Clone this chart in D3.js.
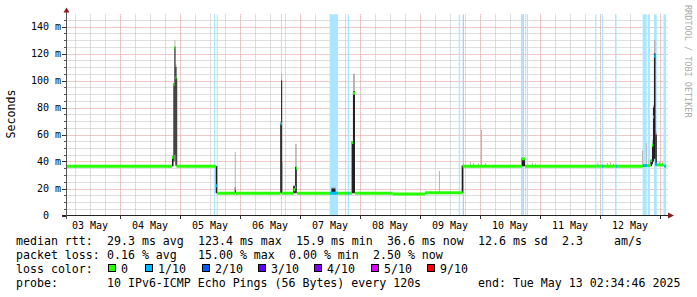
<!DOCTYPE html>
<html><head><meta charset="utf-8">
<script src="https://cdn.jsdelivr.net/npm/d3@7"></script>
<style>body{margin:0;background:#fff}svg{display:block}text{font-family:"DejaVu Sans Mono",monospace}</style>
</head><body>
<svg id="c" width="697" height="297"></svg>
<script>
// ---------- data ----------
const startStamp = "2025-05-03 02:34:46";
const endStamp = "2025-05-13 02:34:46";
const yTickValues = [0, 20, 40, 60, 80, 100, 120, 140];
const yTickLabels = ["0", "20 m", "40 m", "60 m", "80 m", "100 m", "120 m", "140 m"];
const dayLabels = ["03 May","04 May","05 May","06 May","07 May","08 May","09 May","10 May","11 May","12 May"];

const lossLabels = ["0", "1/10", "2/10", "3/10", "4/10", "5/10", "9/10"];
const lossColors = ["#26ff00", "#00b8ff", "#0059ff", "#5e00ff", "#7e00ff", "#dd00ff", "#ff0000"];

// median rtt (ms), step segments starting at medTime[i]
const medTime = ["05-03 02:34","05-04 20:48","05-04 21:24","05-04 21:48","05-04 22:12","05-04 22:36",
  "05-05 14:24","05-05 14:48","05-05 22:00","05-05 22:24","05-06 16:12","05-06 16:48","05-06 21:24",
  "05-06 22:00","05-06 22:24","05-06 22:48","05-07 12:00","05-07 15:12","05-07 19:12","05-07 19:36",
  "05-07 20:48","05-07 21:12","05-07 22:00","05-08 13:05","05-09 02:00","05-09 17:05","05-10 16:48",
  "05-10 18:00","05-11 22:12","05-11 22:36","05-12 00:48","05-12 01:12","05-12 06:24","05-12 06:48",
  "05-12 17:12","05-12 18:48","05-12 20:12","05-12 20:48","05-12 21:12","05-12 21:36","05-12 22:12",
  "05-12 22:48","05-13 01:36","05-13 02:24"];
const medValue = [36.5,43,97,124,102,36.5,
  22,16.5,20,16.5,68,16.5,19,
  21,35,16.5,16.5,16.5,16.5,16.5,
  54,90.6,16.5,15.9,16.8,36.5,42,
  36.5,36.5,36.5,36.5,36.5,36.5,36.5,
  37,37,40.7,52,73,118,38,
  37.5,36.6,36.6];
const medLoss = [0,0,0,0,0,0,
  1,0,0,0,1,0,0,
  0,0,0,1,0,1,0,
  0,0,0,0,0,0,0,
  0,1,0,1,0,1,0,
  1,0,0,0,1,1,1,
  0,1,0];

// smoke: dark from smokeLow to smokeHigh, light grey up to smokeTop
const smokeStart = ["05-04 20:48","05-04 21:24","05-04 21:48","05-04 22:12","05-04 22:36","05-05 14:19",
  "05-05 21:55","05-06 16:07","05-06 16:29","05-06 16:53","05-06 21:19","05-06 22:05","05-07 12:36",
  "05-07 20:41","05-07 21:12","05-09 07:36","05-09 16:43","05-09 20:00","05-09 21:12","05-09 23:12",
  "05-10 00:24","05-10 02:00","05-10 16:41","05-10 20:48","05-10 22:00","05-11 23:00","05-12 02:48",
  "05-12 04:00","05-12 05:12","05-12 16:48","05-12 18:24","05-12 19:24","05-12 20:12","05-12 20:48",
  "05-12 21:12","05-12 21:36","05-12 22:12","05-12 23:36","05-13 00:48"];
const smokeEnd = ["05-04 21:24","05-04 21:48","05-04 22:12","05-04 22:36","05-04 22:53","05-05 14:55",
  "05-05 22:19","05-06 16:29","05-06 16:53","05-06 17:12","05-06 22:00","05-06 22:43","05-07 14:12",
  "05-07 21:12","05-07 22:00","05-09 08:00","05-09 17:19","05-09 20:24","05-09 21:36","05-09 23:36",
  "05-10 00:48","05-10 02:24","05-10 18:00","05-10 21:12","05-10 22:24","05-11 23:24","05-12 03:12",
  "05-12 04:24","05-12 05:36","05-12 17:12","05-12 18:43","05-12 19:43","05-12 20:48","05-12 21:12",
  "05-12 21:36","05-12 22:12","05-12 22:43","05-13 00:00","05-13 01:12"];
const smokeLow = [36.5,40,45,37,36.5,16.5,
  16.5,16.5,16.5,16.5,16.5,16.5,16.5,
  16.5,16.5,16.8,16.8,36.5,36.5,36.5,
  36.5,36.5,36.5,36.5,36.5,36.5,36.5,
  36.5,36.5,36.5,36.5,36.5,36.5,38,
  40,42,37,36.5,36.5];
const smokeHigh = [44,98,125,110,102,36.5,
  21,68,100,16.5,22,36,20,
  55,92,16.8,37,36.5,36.5,36.5,
  36.5,36.5,42.5,36.5,36.5,36.5,36.5,
  36.5,36.5,36.5,36.5,36.5,41,53,
  80,120,60,36.5,36.5];
const smokeTop = [44,98,130,112,102,36.5,
  47,70,105,39.5,22,53,21,
  55,105,33,37,39.5,39,38.5,
  63.5,39,42.5,39,38.5,39,39,
  39.5,38.5,48,53.7,41,41,56,
  82,130,62,40,39.5];

// loss background periods
const lossStart = ["05-05 13:36","05-05 14:43","05-06 16:24","05-07 11:53","05-07 19:07","05-09 15:31",
  "05-09 17:07","05-10 16:24","05-10 17:00","05-10 18:43","05-11 22:05","05-12 00:43","05-12 06:10",
  "05-12 17:05","05-12 19:05","05-12 21:36","05-13 01:26"];
const lossEnd = ["05-05 14:00","05-05 15:07","05-06 16:48","05-07 15:12","05-07 19:36","05-09 16:00",
  "05-09 17:36","05-10 17:00","05-10 17:31","05-10 19:12","05-11 22:34","05-12 01:12","05-12 06:38",
  "05-12 18:41","05-12 20:00","05-12 22:43","05-13 02:24"];
const lossLevel = [1,1,1,1,1,1,2,1,2,1,1,1,1,1,1,1,1];

const rttStats = ["29.3 ms avg", "123.4 ms max", "15.9 ms min", "36.6 ms now", "12.6 ms sd", "2.3", "am/s"];
const lossStats = ["0.16 % avg", "15.00 % max", "0.00 % min", "2.50 % now"];
const probeText = "10 IPv6-ICMP Echo Pings (56 Bytes) every 120s";
const endText = "end: Tue May 13 02:34:46 2025";

// ---------- drawing ----------
const pT = d3.timeParse("%Y-%m-%d %H:%M");
const pS = d3.timeParse("%Y-%m-%d %H:%M:%S");
const T = s => pT("2025-" + s);
const t0 = pS(startStamp), t1 = pS(endStamp);

const svg = d3.select("#c");
const x = d3.scaleTime().domain([t0, t1]).range([66.4, 666.4]);
const y = d3.scaleLinear().domain([0, 149]).range([215.5, 14.35]);
const plotTop = y(149), plotBot = y(0);

// grid
const g = svg.append("g");
const minorY = d3.range(5, 149, 5).filter(v => v % 20 !== 0);
const majorY = d3.range(20, 149, 20);
g.selectAll(".hmin").data(minorY).join("line")
  .attr("x1", 66.5).attr("x2", 668).attr("y1", d => Math.round(y(d)) + 0.5).attr("y2", d => Math.round(y(d)) + 0.5)
  .attr("stroke", "#bdbdbd").attr("stroke-dasharray", "1,1");
const sixH = d3.timeHour.every(6).range(t0, t1).filter(d => d.getHours() !== 0);
const days = d3.timeDay.range(d3.timeDay.ceil(t0), t1);
g.selectAll(".vmin").data(sixH).join("line")
  .attr("x1", d => Math.round(x(d)) + 0.5).attr("x2", d => Math.round(x(d)) + 0.5)
  .attr("y1", plotTop).attr("y2", plotBot)
  .attr("stroke", "#bdbdbd").attr("stroke-dasharray", "1,1");
g.selectAll(".hmaj").data(majorY).join("line")
  .attr("x1", 66.5).attr("x2", 668).attr("y1", d => Math.round(y(d)) + 0.5).attr("y2", d => Math.round(y(d)) + 0.5)
  .attr("stroke", "#e09090").attr("stroke-dasharray", "1,1");
g.selectAll(".vmaj").data(days).join("line")
  .attr("x1", d => Math.round(x(d)) + 0.5).attr("x2", d => Math.round(x(d)) + 0.5)
  .attr("y1", plotTop).attr("y2", plotBot)
  .attr("stroke", "#e09090").attr("stroke-dasharray", "1,1");

// loss background
const lossBg = lossLevel.map(l => d3.interpolateRgb("#ffffff", lossColors[l])(0.34));
svg.append("g").selectAll("rect").data(lossStart.map((s, i) => i)).join("rect")
  .attr("x", i => x(T(lossStart[i]))).attr("width", i => Math.max(1, x(T(lossEnd[i])) - x(T(lossStart[i]))))
  .attr("y", plotTop).attr("height", plotBot - plotTop)
  .attr("fill", i => lossBg[i]);

// smoke
const sIdx = smokeStart.map((s, i) => i);
svg.append("g").selectAll("rect").data(sIdx.filter(i => smokeTop[i] > smokeLow[i])).join("rect")
  .attr("x", i => x(T(smokeStart[i]))).attr("width", i => x(T(smokeEnd[i])) - x(T(smokeStart[i])))
  .attr("y", i => y(smokeTop[i])).attr("height", i => y(smokeLow[i]) - y(smokeTop[i]))
  .attr("fill", "#b4b4b4");
svg.append("g").selectAll("rect").data(sIdx.filter(i => smokeHigh[i] > smokeLow[i])).join("rect")
  .attr("x", i => x(T(smokeStart[i]))).attr("width", i => x(T(smokeEnd[i])) - x(T(smokeStart[i])))
  .attr("y", i => y(smokeHigh[i])).attr("height", i => y(smokeLow[i]) - y(smokeHigh[i]))
  .attr("fill", "#1e1e1e");

// median line
const mIdx = medTime.map((s, i) => i);
svg.append("g").selectAll("line").data(mIdx).join("line")
  .attr("x1", i => x(T(medTime[i])))
  .attr("x2", i => i < medTime.length - 1 ? x(T(medTime[i + 1])) : x(t1))
  .attr("y1", i => y(medValue[i])).attr("y2", i => y(medValue[i]))
  .attr("stroke", i => lossColors[medLoss[i]]).attr("stroke-width", 3);

// axes
const ax = svg.append("g");
ax.append("line").attr("x1", 62).attr("x2", 668).attr("y1", 215.5).attr("y2", 215.5).attr("stroke", "#222");
ax.append("line").attr("x1", 66.5).attr("x2", 66.5).attr("y1", 219).attr("y2", 12).attr("stroke", "#555");
ax.append("path").attr("d", "M668,212.5L674,215.5L668,218.5Z").attr("fill", "#8c1c1c");
ax.append("path").attr("d", "M63.5,12.5L66.5,7.5L69.5,12.5Z").attr("fill", "#8c1c1c");
ax.selectAll(".xt").data(days).join("line")
  .attr("x1", d => Math.round(x(d)) + 0.5).attr("x2", d => Math.round(x(d)) + 0.5)
  .attr("y1", 215.5).attr("y2", 219).attr("stroke", "#333");
ax.selectAll(".ytm").data(yTickValues).join("line")
  .attr("x1", 62).attr("x2", 66.5).attr("y1", d => Math.round(y(d)) + 0.5).attr("y2", d => Math.round(y(d)) + 0.5)
  .attr("stroke", "#333");
ax.selectAll(".ytn").data(minorY).join("line")
  .attr("x1", 64).attr("x2", 66.5).attr("y1", d => Math.round(y(d)) + 0.5).attr("y2", d => Math.round(y(d)) + 0.5)
  .attr("stroke", "#555");

ax.selectAll(".yl").data(yTickValues).join("text")
  .attr("x", 61).attr("y", d => y(d) + 3.6).attr("text-anchor", "end")
  .attr("font-size", "10px").attr("fill", "#000")
  .text((d, i) => yTickLabels[i].includes(" ") ? yTickLabels[i] : yTickLabels[i] + "\u00a0\u00a0");

const noons = days.map(d => d3.timeHour.offset(d, -12));
ax.selectAll(".xl").data(dayLabels).join("text")
  .attr("x", (d, i) => x(noons[i])).attr("y", 228.5).attr("text-anchor", "middle")
  .attr("font-size", "10px").attr("fill", "#000").text(d => d);

svg.append("text").attr("transform", "translate(14.5,114) rotate(-90)").attr("text-anchor", "middle")
  .attr("font-size", "11.6px").attr("fill", "#000").text("Seconds");

svg.append("text").attr("transform", "translate(685,5) rotate(90)")
  .attr("font-size", "8.5px").attr("fill", "#aaaaaa").text("RRDTOOL / TOBI OETIKER");

// legend
const leg = svg.append("g").attr("font-size", "11.6px").attr("fill", "#000");
const row = (txt, xp, yp) => leg.append("text").attr("x", xp).attr("y", yp).attr("xml:space", "preserve").text(txt);
row("median rtt:", 16, 245);
[107, 198, 296, 387, 478, 562, 614].forEach((xp, i) => row(rttStats[i], xp, 245));
row("packet loss:", 16, 259);
[107, 198, 289, 373].forEach((xp, i) => row(lossStats[i], xp, 259));
row("loss color:", 16, 273);
const boxX = [108, 145, 202, 258, 314, 371, 427];
lossLabels.forEach((l, i) => {
  leg.append("rect").attr("x", boxX[i] + 0.5).attr("y", 264.5).attr("width", 7).attr("height", 7)
    .attr("fill", lossColors[i]).attr("stroke", "#000").attr("stroke-width", 1);
  row(l, boxX[i] + 13, 273);
});
row("probe:", 16, 287);
row(probeText, 107, 287);
row(endText, 478, 287);
</script>
</body></html>
